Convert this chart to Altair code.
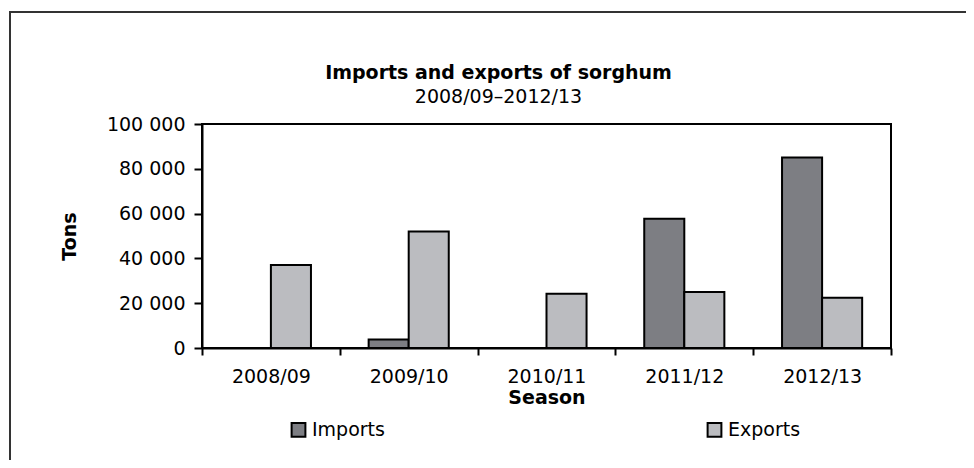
import altair as alt
import pandas as pd

seasons = ["2008/09", "2009/10", "2010/11", "2011/12", "2012/13"]
imports = [0, 3800, 0, 57700, 85000]
exports = [37000, 52000, 24200, 25000, 22400]
series = ["Imports", "Exports"]
colors = ["#7d7e83", "#bbbcc0"]

rows = []
for s, i, e in zip(seasons, imports, exports):
    rows.append({"Season": s, "Series": "Imports", "Tons": i})
    rows.append({"Season": s, "Series": "Exports", "Tons": e})
df = pd.DataFrame(rows)

FONT = "DejaVu Sans"
FS = 19

bars = alt.Chart(df).mark_bar(stroke="black", strokeWidth=2).encode(
    x=alt.X("Season:N", sort=seasons,
            scale=alt.Scale(paddingInner=0, paddingOuter=0),
            axis=alt.Axis(title="Season", labelAngle=0, tickBand="extent",
                          labelFontSize=FS, titleFontSize=FS, titleFontWeight="bold",
                          labelPadding=12, titlePadding=2, tickSize=7)),
    xOffset=alt.XOffset("Series:N", sort=series,
                        scale=alt.Scale(paddingInner=0, paddingOuter=0.72)),
    y=alt.Y("Tons:Q", scale=alt.Scale(domain=[0, 100000]),
            axis=alt.Axis(title="Tons", values=[0, 20000, 40000, 60000, 80000, 100000],
                          labelExpr="replace(format(datum.value, ','), regexp(',', 'g'), ' ')",
                          labelFontSize=FS, titleFontSize=FS, titleFontWeight="bold",
                          labelPadding=9, titlePadding=27, tickSize=8)),
    color=alt.Color("Series:N", sort=series,
                    scale=alt.Scale(domain=series, range=colors),
                    legend=alt.Legend(title=None, orient="none", direction="horizontal",
                                      legendX=87, legendY=296, columnPadding=318,
                                      symbolType="square", symbolSize=190,
                                      symbolStrokeColor="black", symbolStrokeWidth=2,
                                      symbolOpacity=1, labelFontSize=FS, labelOffset=4)),
)

frame = alt.Chart(alt.Data(values=[{}])).mark_rect(
    fill=None, stroke="#333333", strokeWidth=2
).encode(
    x=alt.value(-192), x2=alt.value(900),
    y=alt.value(-112), y2=alt.value(500),
)

chart = alt.layer(frame, bars).properties(
    width=689, height=224,
    autosize=alt.AutoSizeParams(type="none"),
    padding={"left": 194, "top": 116, "right": 75, "bottom": 112},
    title=alt.Title("Imports and exports of sorghum", subtitle="2008/09–2012/13",
                    fontSize=FS, subtitleFontSize=FS, fontWeight="bold",
                    subtitleColor="black", color="black", anchor="middle",
                    frame="group", dx=-48,
                    offset=-96, subtitlePadding=5, font=FONT, subtitleFont=FONT),
).configure(font=FONT).configure_view(
    stroke="black", strokeWidth=2
).configure_axis(
    domainColor="black", domainWidth=2, tickColor="black", tickWidth=2,
    labelColor="black", titleColor="black", grid=False, labelFont=FONT, titleFont=FONT
).configure_legend(labelFont=FONT, labelColor="black")

chart.save("out.html", embed_options={"renderer": "svg", "actions": False})
